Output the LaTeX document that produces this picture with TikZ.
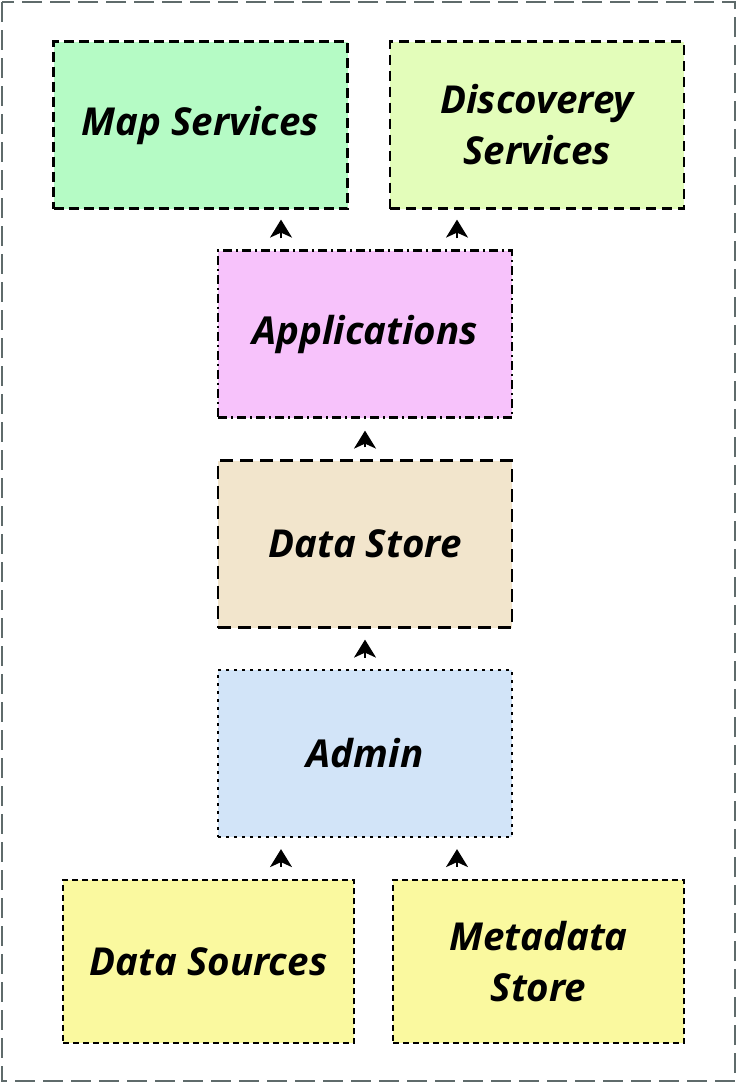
\documentclass[tikz,border=0pt]{standalone}
\usepackage{fontspec}
\setmainfont{Open Sans}
\usetikzlibrary{arrows.meta}
\definecolor{cmap}{HTML}{B5FBC5}
\definecolor{cdisc}{HTML}{E3FDBA}
\definecolor{capp}{HTML}{F7C2FB}
\definecolor{cstore}{HTML}{F2E5CC}
\definecolor{cadmin}{HTML}{D2E4F8}
\definecolor{csrc}{HTML}{FAF99F}
\definecolor{cframe}{HTML}{5F6B6B}
\tikzset{
  box/.style={draw=black, line width=2.2pt, minimum width=294pt, minimum height=167pt,
    inner sep=0pt, align=center, font=\fontsize{38.5}{51}\selectfont\bfseries\itshape},
  arr/.style={line width=2pt, -{Stealth[length=18pt,width=22pt,inset=5pt]}},
}
\begin{document}
\begin{tikzpicture}[x=1pt,y=-1pt]
\useasboundingbox (0,0) rectangle (738,1084);
\draw[cframe, line width=2pt, dash pattern=on 20pt off 8pt] (2,2) rectangle (735,1081);

\node[box, fill=cmap, dash pattern=on 10pt off 5pt] (map) at (200.5,125) {Map Services};
\node[box, fill=cdisc, dash pattern=on 10pt off 6pt] (disc) at (537,125) {Discoverey\\Services};
\node[box, fill=capp, dash pattern=on 9pt off 4pt on 2pt off 4pt] (app) at (365,334) {Applications};
\node[box, fill=cstore, dash pattern=on 13pt off 7pt] (store) at (365,544) {Data Store};
\node[box, fill=cadmin, dash pattern=on 3pt off 5pt] (admin) at (365,753.5) {Admin};
\node[box, fill=csrc, dash pattern=on 6pt off 4pt, minimum width=291pt, minimum height=163pt] (src) at (208.5,961.5) {Data Sources};
\node[box, fill=csrc, dash pattern=on 6pt off 4pt, minimum width=291pt, minimum height=163pt] (meta) at (538.5,961.5) {Metadata\\Store};

\coordinate (xl) at (281,0);
\coordinate (xr) at (457,0);
\coordinate (xm) at (365,0);

\draw[arr, shorten <=11pt, shorten >=10pt] (app.north -| xl) -- (map.south -| xl);
\draw[arr, shorten <=11pt, shorten >=10pt] (app.north -| xr) -- (disc.south -| xr);
\draw[arr, shorten <=12pt, shorten >=12pt] (store.north -| xm) -- (app.south -| xm);
\draw[arr, shorten <=11pt, shorten >=11pt] (admin.north -| xm) -- (store.south -| xm);
\draw[arr, shorten <=12pt, shorten >=11pt] (src.north -| xl) -- (admin.south -| xl);
\draw[arr, shorten <=12pt, shorten >=11pt] (meta.north -| xr) -- (admin.south -| xr);
\end{tikzpicture}
\end{document}
